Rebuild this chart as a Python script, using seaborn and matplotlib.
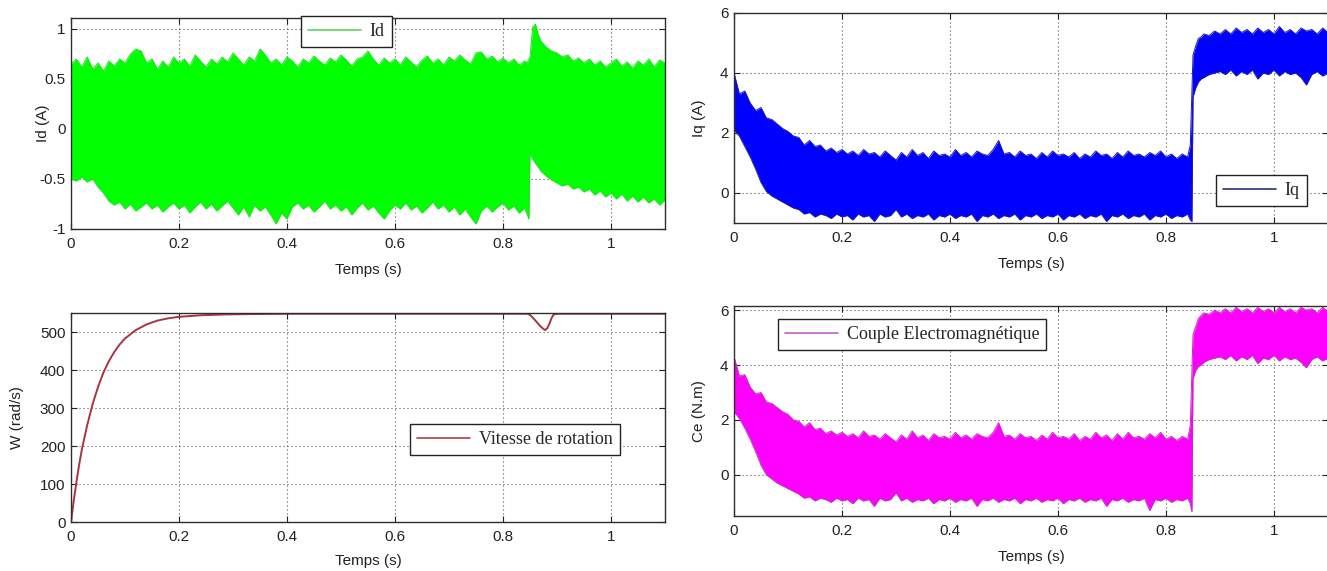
import numpy as np
import matplotlib
matplotlib.use("Agg")
import matplotlib.pyplot as plt
from matplotlib.lines import Line2D
import seaborn as sns

# ---------------------------------------------------------------------------
# Sample instants (s): regular 10 ms steps, denser around the load step
# ---------------------------------------------------------------------------
t_main = np.round(np.arange(0.0, 0.845, 0.01), 3)          # 0.00 ... 0.84
t_step = [0.845, 0.848, 0.850, 0.855, 0.860, 0.865, 0.870, 0.880, 0.890, 0.900]
t_tail = np.round(np.arange(0.91, 1.105, 0.01), 3)          # 0.91 ... 1.10
t = np.concatenate([t_main, t_step, t_tail])

# ---------------------------------------------------------------------------
# Id (A): upper / lower ripple envelope
# ---------------------------------------------------------------------------
id_upper = [
    0.65, 0.70, 0.62, 0.72, 0.60, 0.66, 0.58, 0.68, 0.63, 0.70,
    0.66, 0.75, 0.80, 0.78, 0.66, 0.70, 0.60, 0.68, 0.62, 0.72,
    0.66, 0.70, 0.63, 0.74, 0.68, 0.62, 0.70, 0.65, 0.72, 0.67,
    0.76, 0.70, 0.64, 0.72, 0.68, 0.80, 0.74, 0.66, 0.70, 0.64,
    0.72, 0.68, 0.62, 0.70, 0.66, 0.73, 0.68, 0.64, 0.71, 0.67,
    0.74, 0.69, 0.63, 0.70, 0.72, 0.78, 0.70, 0.64, 0.71, 0.66,
    0.70, 0.64, 0.72, 0.67, 0.62, 0.69, 0.73, 0.66, 0.70, 0.64,
    0.72, 0.68, 0.74, 0.69, 0.65, 0.76, 0.77, 0.70, 0.73, 0.67,
    0.71, 0.66, 0.70, 0.64, 0.68,
    0.66, 0.70, 0.72, 1.02, 1.05, 0.95, 0.88, 0.82, 0.78, 0.76,
    0.72, 0.74, 0.68, 0.71, 0.66, 0.70, 0.64, 0.68, 0.62, 0.66,
    0.70, 0.63, 0.67, 0.61, 0.68, 0.64, 0.70, 0.62, 0.69, 0.66,
]
id_lower = [
    -0.50, -0.52, -0.48, -0.53, -0.50, -0.58, -0.64, -0.72, -0.76, -0.73,
    -0.80, -0.75, -0.82, -0.78, -0.74, -0.80, -0.76, -0.83, -0.78, -0.74,
    -0.80, -0.76, -0.84, -0.78, -0.73, -0.80, -0.75, -0.82, -0.77, -0.72,
    -0.79, -0.86, -0.78, -0.88, -0.76, -0.82, -0.78, -0.86, -0.95, -0.84,
    -0.90, -0.78, -0.74, -0.80, -0.76, -0.83, -0.78, -0.72, -0.80, -0.76,
    -0.82, -0.78, -0.86, -0.79, -0.74, -0.81, -0.77, -0.84, -0.90, -0.82,
    -0.76, -0.80, -0.74, -0.81, -0.77, -0.84, -0.79, -0.73, -0.80, -0.76,
    -0.83, -0.78, -0.86, -0.80, -0.88, -0.95, -0.82, -0.77, -0.83, -0.78,
    -0.74, -0.81, -0.77, -0.84, -0.79,
    -0.86, -0.90, -0.24, -0.30, -0.34, -0.38, -0.42, -0.47, -0.51, -0.54,
    -0.57, -0.55, -0.60, -0.58, -0.63, -0.60, -0.66, -0.62, -0.68, -0.64,
    -0.70, -0.65, -0.72, -0.67, -0.73, -0.68, -0.74, -0.70, -0.76, -0.71,
]

# ---------------------------------------------------------------------------
# Iq (A): upper / lower ripple envelope
# ---------------------------------------------------------------------------
iq_upper = [
    4.00, 3.30, 3.40, 3.00, 2.75, 2.85, 2.50, 2.45, 2.30, 2.15,
    2.05, 1.90, 1.85, 1.60, 1.75, 1.55, 1.60, 1.40, 1.50, 1.35,
    1.45, 1.30, 1.40, 1.25, 1.45, 1.30, 1.35, 1.20, 1.40, 1.25,
    1.10, 1.35, 1.20, 1.45, 1.25, 1.35, 1.15, 1.40, 1.25, 1.30,
    1.20, 1.45, 1.25, 1.35, 1.20, 1.40, 1.30, 1.25, 1.45, 1.75,
    1.30, 1.35, 1.20, 1.40, 1.25, 1.30, 1.15, 1.35, 1.20, 1.40,
    1.25, 1.30, 1.20, 1.35, 1.15, 1.30, 1.20, 1.40, 1.25, 1.30,
    1.15, 1.35, 1.20, 1.40, 1.25, 1.30, 1.20, 1.35, 1.25, 1.40,
    1.20, 1.30, 1.15, 1.30, 1.20,
    1.60, 3.40, 4.60, 4.90, 5.15, 5.20, 5.30, 5.25, 5.40, 5.30,
    5.45, 5.30, 5.50, 5.35, 5.45, 5.30, 5.50, 5.35, 5.45, 5.30,
    5.55, 5.35, 5.45, 5.30, 5.50, 5.40, 5.45, 5.30, 5.50, 5.35,
]
iq_lower = [
    2.10, 1.90, 1.55, 1.20, 0.80, 0.35, 0.05, -0.10, -0.20, -0.30,
    -0.40, -0.50, -0.55, -0.70, -0.65, -0.80, -0.70, -0.75, -0.85, -0.70,
    -0.80, -0.75, -0.90, -0.70, -0.80, -0.75, -0.95, -0.70, -0.80, -0.75,
    -0.55, -0.80, -0.70, -0.85, -0.75, -0.80, -0.70, -0.90, -0.75, -0.80,
    -0.70, -0.85, -0.75, -0.80, -0.70, -0.95, -0.75, -0.80, -0.70, -0.85,
    -0.75, -0.80, -0.70, -0.90, -0.75, -0.80, -0.70, -0.85, -0.75, -0.80,
    -0.70, -0.90, -0.75, -0.80, -0.70, -0.85, -0.75, -0.80, -0.70, -0.95,
    -0.75, -0.80, -0.70, -0.85, -0.75, -0.80, -0.70, -0.90, -0.75, -0.80,
    -0.70, -0.85, -0.75, -0.80, -0.70,
    -0.90, -0.95, 3.20, 3.50, 3.70, 3.80, 3.85, 3.95, 4.00, 4.05,
    3.95, 4.10, 3.90, 4.05, 3.95, 4.10, 3.80, 4.00, 3.95, 4.10,
    3.90, 4.05, 3.95, 4.00, 3.85, 3.60, 3.95, 4.05, 3.90, 4.00,
]

# ---------------------------------------------------------------------------
# Ce (N.m): upper / lower ripple envelope
# ---------------------------------------------------------------------------
ce_upper = [
    4.30, 3.60, 3.65, 3.20, 2.95, 3.00, 2.65, 2.60, 2.45, 2.30,
    2.20, 2.00, 1.95, 1.75, 1.90, 1.65, 1.70, 1.50, 1.60, 1.45,
    1.55, 1.40, 1.50, 1.35, 1.60, 1.40, 1.45, 1.30, 1.50, 1.35,
    1.20, 1.45, 1.30, 1.60, 1.35, 1.45, 1.25, 1.50, 1.35, 1.40,
    1.30, 1.55, 1.35, 1.45, 1.30, 1.50, 1.40, 1.35, 1.55, 1.90,
    1.40, 1.45, 1.30, 1.50, 1.35, 1.40, 1.25, 1.45, 1.30, 1.55,
    1.35, 1.40, 1.30, 1.50, 1.25, 1.40, 1.30, 1.55, 1.35, 1.45,
    1.25, 1.50, 1.30, 1.55, 1.35, 1.40, 1.30, 1.50, 1.35, 1.55,
    1.30, 1.40, 1.25, 1.40, 1.30,
    1.80, 3.80, 5.10, 5.40, 5.70, 5.80, 5.90, 5.85, 6.00, 5.90,
    6.05, 5.90, 6.10, 5.95, 6.05, 5.90, 6.10, 5.95, 6.05, 5.90,
    6.10, 5.95, 6.05, 5.90, 6.10, 6.00, 6.05, 5.90, 6.10, 5.95,
]
ce_lower = [
    2.30, 2.05, 1.70, 1.30, 0.85, 0.35, 0.00, -0.15, -0.30, -0.40,
    -0.50, -0.60, -0.70, -0.85, -0.80, -0.95, -0.85, -0.90, -1.00, -0.85,
    -0.95, -0.90, -1.05, -0.85, -0.95, -0.90, -1.15, -0.85, -0.95, -0.90,
    -0.65, -0.95, -0.85, -1.00, -0.90, -0.95, -0.85, -1.05, -0.90, -0.95,
    -0.85, -1.00, -0.90, -0.95, -0.85, -1.15, -0.90, -0.95, -0.85, -1.00,
    -0.90, -0.95, -0.85, -1.05, -0.90, -0.95, -0.85, -1.00, -0.90, -0.95,
    -0.85, -1.05, -0.90, -0.95, -0.85, -1.00, -0.90, -0.95, -0.85, -1.15,
    -0.90, -0.95, -0.85, -1.00, -0.90, -0.95, -0.85, -1.30, -0.90, -0.95,
    -0.85, -1.00, -0.90, -0.95, -0.85,
    -1.05, -1.35, 3.50, 3.80, 3.95, 4.00, 4.10, 4.20, 4.25, 4.30,
    4.20, 4.35, 4.15, 4.30, 4.20, 4.35, 4.05, 4.25, 4.20, 4.35,
    4.15, 4.30, 4.20, 4.25, 4.10, 3.90, 4.20, 4.30, 4.15, 4.25,
]

# ---------------------------------------------------------------------------
# Rotor speed W (rad/s)
# ---------------------------------------------------------------------------
t_w = [0.0, 0.005, 0.01, 0.015, 0.02, 0.03, 0.04, 0.05, 0.06, 0.07, 0.08,
       0.09, 0.10, 0.12, 0.14, 0.16, 0.18, 0.20, 0.24, 0.28, 0.32, 0.40,
       0.60, 0.80, 0.845, 0.85, 0.855, 0.86, 0.865, 0.87, 0.875, 0.878,
       0.882, 0.886, 0.89, 0.894, 0.90, 1.00, 1.10]
w_speed = [0, 55, 105, 150, 190, 255, 310, 355, 393, 423, 447,
           467, 483, 505, 520, 530, 536, 540, 544, 546, 547, 548,
           548, 548, 548, 545, 538, 530, 522, 514, 508, 505,
           510, 522, 537, 546, 548, 548, 548]

# Axis ticks
x_ticks = [0, 0.2, 0.4, 0.6, 0.8, 1.0]
x_tick_labels = ["0", "0.2", "0.4", "0.6", "0.8", "1"]
id_ticks = [-1, -0.5, 0, 0.5, 1]
id_tick_labels = ["-1", "-0.5", "0", "0.5", "1"]
iq_ticks = [0, 2, 4, 6]
ce_ticks = [0, 2, 4, 6]
w_ticks = [0, 100, 200, 300, 400, 500]

for arr in (id_upper, id_lower, iq_upper, iq_lower, ce_upper, ce_lower):
    assert len(arr) == len(t)

# ---------------------------------------------------------------------------
# Figure
# ---------------------------------------------------------------------------
sns.set_theme(style="ticks")
plt.rcParams["font.family"] = ["Liberation Sans", "DejaVu Sans"]
plt.rcParams["axes.unicode_minus"] = False

W_PX, H_PX = 1327, 571
fig = plt.figure(figsize=(W_PX / 100, H_PX / 100), dpi=100)


def add_axes(left, top, right, bottom):
    return fig.add_axes([left / W_PX, 1 - bottom / H_PX,
                         (right - left) / W_PX, (bottom - top) / H_PX])


ax_id = add_axes(71, 18, 665, 229)
ax_iq = add_axes(734, 13, 1328, 223)
ax_w = add_axes(71, 313, 665, 522)
ax_ce = add_axes(734, 306, 1328, 516)

TEXT_C = "#222222"
SERIF = {"family": "Liberation Serif", "size": 13}


def style(ax, ylim, yticks, yticklabels, ylabel, ylabel_x, xlabel_y):
    ax.set_xlim(0, 1.1)
    ax.set_ylim(*ylim)
    ax.set_xticks(x_ticks)
    ax.set_xticklabels(x_tick_labels)
    ax.set_yticks(yticks)
    ax.set_yticklabels(yticklabels)
    ax.set_axisbelow(True)
    ax.grid(True, color="#555555", linestyle=(0, (1, 2.6)), linewidth=0.8)
    ax.tick_params(direction="in", top=True, right=True, length=4,
                   width=0.8, labelsize=11, pad=4, colors=TEXT_C)
    ax.tick_params(axis="x", pad=6)
    for s in ax.spines.values():
        s.set_visible(True)
        s.set_color("#2e2e2e")
        s.set_linewidth(1.0)
        s.set_zorder(5)
    ax.set_xlabel("Temps (s)", fontsize=11, color=TEXT_C)
    ax.set_ylabel(ylabel, fontsize=11, color=TEXT_C)
    ax.yaxis.set_label_coords(ylabel_x, 0.5)
    ax.xaxis.set_label_coords(0.5, xlabel_y)


def ripple(ax, lo, hi, fill_c, edge_c):
    ax.fill_between(t, lo, hi, color=fill_c, linewidth=0, zorder=2)
    sns.lineplot(x=t, y=hi, ax=ax, color=edge_c, linewidth=0.7,
                 sort=False, zorder=3)
    sns.lineplot(x=t, y=lo, ax=ax, color=edge_c, linewidth=0.7,
                 sort=False, zorder=3)


def legend(ax, label, color, x_px, y_px):
    handle = Line2D([], [], color=color, linewidth=1.2)
    leg = ax.legend([handle], [label], loc="upper left",
                    bbox_to_anchor=(x_px / W_PX, 1 - y_px / H_PX),
                    bbox_transform=fig.transFigure, borderaxespad=0,
                    prop=SERIF, handlelength=2.9, handletextpad=0.5,
                    borderpad=0.4, fancybox=False, framealpha=1)
    leg.get_frame().set_edgecolor("#222222")
    leg.get_frame().set_linewidth(1.0)
    leg.set_zorder(10)


# Id
ripple(ax_id, id_lower, id_upper, "#00ff00", "#1fe01f")
style(ax_id, (-1, 1.11), id_ticks, id_tick_labels, "Id (A)", -0.035, -0.16)
legend(ax_id, "Id", "#5fd35f", 301, 16)

# Iq
ripple(ax_iq, iq_lower, iq_upper, "#0000ff", "#1c1ca8")
style(ax_iq, (-1, 6), iq_ticks, ["0", "2", "4", "6"], "Iq (A)", -0.047, -0.16)
legend(ax_iq, "Iq", "#26307a", 1216, 175)

# W
sns.lineplot(x=t_w, y=w_speed, ax=ax_w, color="#a8343f", linewidth=1.4,
             sort=False, zorder=3)
style(ax_w, (0, 550), w_ticks, [str(v) for v in w_ticks], "W (rad/s)",
      -0.079, -0.155)
legend(ax_w, "Vitesse de rotation", "#b0404c", 410, 424)

# Ce
ripple(ax_ce, ce_lower, ce_upper, "#ff00ff", "#c22cc2")
style(ax_ce, (-1.5, 6.15), ce_ticks, ["0", "2", "4", "6"], "Ce (N.m)",
      -0.047, -0.16)
legend(ax_ce, "Couple Electromagnétique", "#c060c0", 778, 319)

fig.savefig("out.png", dpi=100)
